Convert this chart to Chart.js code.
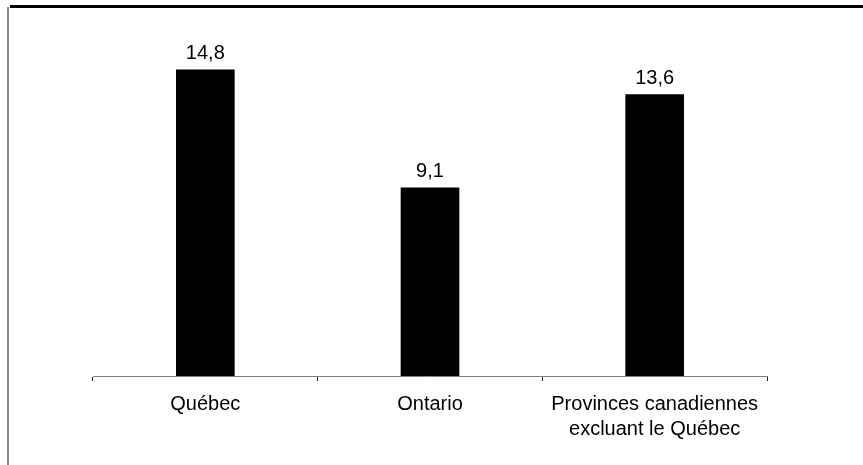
<!DOCTYPE html>
<html lang="fr">
<head>
<meta charset="utf-8">
<script src="https://cdn.jsdelivr.net/npm/chart.js@4/dist/chart.umd.min.js"></script>
<style>
  html, body { margin: 0; padding: 0; background: #fff; }
  #wrap { position: relative; width: 863px; height: 465px; }
</style>
</head>
<body>
<div id="wrap"><canvas id="barChart"></canvas></div>
<script>
// Régions comparées
const regions = ['Québec', 'Ontario', ['Provinces canadiennes', 'excluant le Québec']];
// Valeurs (%)
const valeurs = [14.8, 9.1, 13.6];
const yMin = 0;
const yMax = 16;

const fontFamily = 'Arial, "Liberation Sans", sans-serif';

// Cadre : trait noir en haut, trait gris à gauche
const cadre = {
    id: 'cadre',
    beforeDraw(chart) {
        const ctx = chart.ctx;
        ctx.save();
        ctx.fillStyle = '#000';
        ctx.fillRect(10, 5, 853, 3);
        ctx.fillStyle = '#8a8a8a';
        ctx.fillRect(7, 7, 2, 458);
        ctx.restore();
    }
};

// Étiquettes de valeur au-dessus des barres (virgule décimale)
const etiquettes = {
    id: 'etiquettes',
    afterDatasetsDraw(chart) {
        const ctx = chart.ctx;
        const meta = chart.getDatasetMeta(0);
        ctx.save();
        ctx.fillStyle = '#000';
        ctx.font = '20px ' + fontFamily;
        ctx.textAlign = 'center';
        ctx.textBaseline = 'alphabetic';
        meta.data.forEach((bar, i) => {
            const txt = valeurs[i].toFixed(1).replace('.', ',');
            ctx.fillText(txt, bar.x, bar.y - 11);
        });
        ctx.restore();
    }
};

const ctx = document.getElementById('barChart').getContext('2d');

new Chart(ctx, {
    type: 'bar',
    data: {
        labels: regions,
        datasets: [{
            data: valeurs,
            backgroundColor: '#000',
            borderWidth: 0,
            barThickness: 58
        }]
    },
    options: {
        responsive: true,
        maintainAspectRatio: false,
        animation: false,
        layout: {
            padding: { top: 45, left: 93, right: 96, bottom: 0 }
        },
        scales: {
            x: {
                offset: true,
                grid: {
                    offset: true,
                    drawOnChartArea: false,
                    tickLength: 5,
                    tickColor: '#222',
                    tickWidth: 1
                },
                border: { display: true, color: '#808080', width: 1 },
                ticks: {
                    color: '#000',
                    padding: 11,
                    maxRotation: 0,
                    autoSkip: false,
                    font: { family: fontFamily, size: 20, lineHeight: 1.25 }
                },
                afterFit(scale) {
                    scale.height = 89;
                }
            },
            y: {
                display: false,
                min: yMin,
                max: yMax
            }
        },
        plugins: {
            legend: { display: false },
            tooltip: { enabled: false }
        }
    },
    plugins: [cadre, etiquettes]
});
</script>
</body>
</html>
